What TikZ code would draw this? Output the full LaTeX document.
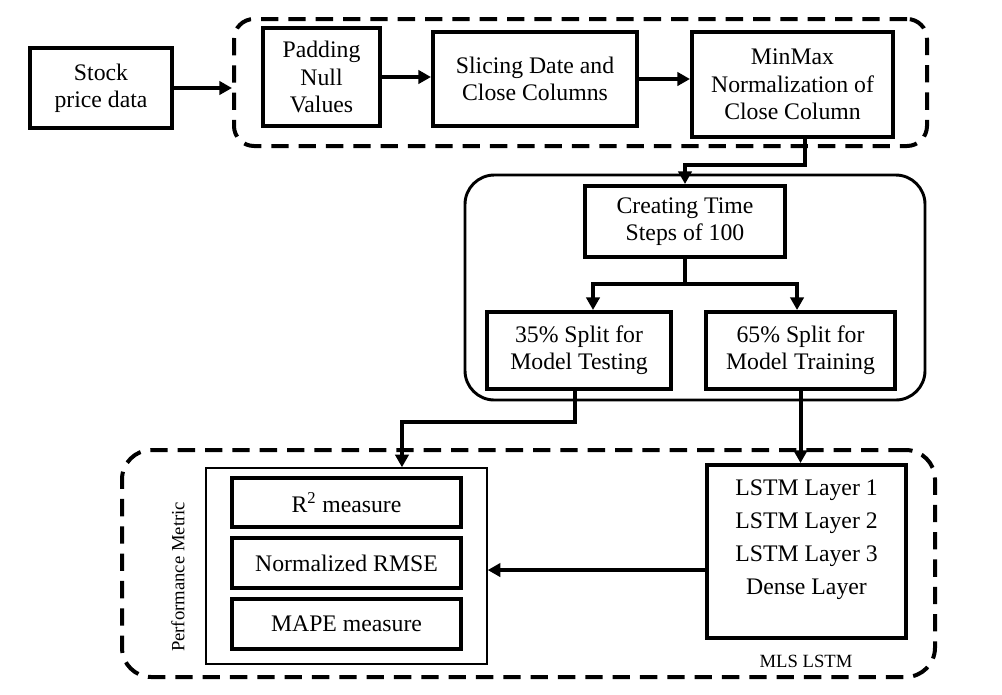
\documentclass[tikz,border=0pt]{standalone}
\usepackage{fontspec}
\setmainfont{Liberation Serif}
\usetikzlibrary{arrows.meta,calc}
\begin{document}
\begin{tikzpicture}[x=0.75pt,y=-0.75pt,
  box/.style={draw, line width=3pt, align=center, inner sep=0pt, font=\fontsize{17.8}{20.5}\selectfont},
  dashbox/.style={draw, line width=3pt, dash pattern=on 13pt off 7.5pt, rounded corners=#1, inner sep=0pt},
  roundbox/.style={draw, line width=2.2pt, rounded corners=22pt, inner sep=0pt},
  thinbox/.style={draw, line width=1.1pt, inner sep=0pt},
  arr/.style={line width=3pt, -{Triangle[length=9.5pt,width=10pt]}},
  smalltext/.style={font=\fontsize{14}{16}\selectfont},
  layertext/.style={align=center, font=\fontsize{17.8}{24.75}\selectfont}
]
\useasboundingbox (0,0) rectangle (1002,694);

% top group
\node[box, minimum width=106.5pt, minimum height=60pt] (stock) at (101,88) {Stock\\price data};
\node[dashbox=15pt, minimum width=519.75pt, minimum height=95.25pt] (pre) at (580.5,82.5) {};
\node[box, minimum width=87.75pt, minimum height=73.5pt] (pad) at (321.5,77) {Padding\\Null\\Values};
\node[box, minimum width=153pt, minimum height=70.5pt] (slice) at (535,79) {Slicing Date and\\Close Columns};
\node[box, minimum width=150.75pt, minimum height=78.75pt] (minmax) at (792.5,84.5) {MinMax\\Normalization of\\Close Column};

% middle group
\node[roundbox, minimum width=345pt, minimum height=168.75pt] (split) at (695,287.5) {};
\node[box, minimum width=150pt, minimum height=53.25pt] (create) at (685,221.5) {Creating Time\\Steps of 100};
\node[box, minimum width=138pt, minimum height=57.75pt] (test) at (579,350.5) {35\% Split for\\Model Testing};
\node[box, minimum width=141.75pt, minimum height=57.75pt] (train) at (800.5,350.5) {65\% Split for\\Model Training};

% bottom group
\node[dashbox=22pt, minimum width=609.75pt, minimum height=170.25pt] (model) at (528.5,563.5) {};
\node[thinbox, minimum width=210.75pt, minimum height=147pt] (perf) at (346.5,566) {};
\node[box, minimum width=171.75pt, minimum height=36.75pt] (r2) at (346.5,502.5) {R\textsuperscript{2} measure};
\node[box, minimum width=171.75pt, minimum height=37.5pt] (rmse) at (346.5,563) {Normalized RMSE};
\node[box, minimum width=171.75pt, minimum height=37.5pt] (mape) at (346.5,624) {MAPE measure};
\node[smalltext, rotate=90] (perflabel) at (178,577) {Performance Metric};
\node[box, minimum width=149.25pt, minimum height=129.75pt] (lstm) at (806.5,551.5) {};
\node[layertext] (layers) at (806.5,540) {LSTM Layer 1\\LSTM Layer 2\\LSTM Layer 3\\Dense Layer};
\node[smalltext] (mlslabel) at (806,661) {MLS LSTM};

% connectors
\draw[arr] (stock.east) -- (stock.east -| pre.west);
\draw[arr] (pad.east) -- (pad.east -| slice.west);
\draw[arr] (slice.east) -- (slice.east -| minmax.west);
\coordinate (mmout) at ([xshift=9pt]minmax.south);
\draw[arr] (mmout) -- ++(0,26) -| (create.north);
\coordinate (testin) at ([xshift=10.5pt]test.north);
\coordinate (trainin) at ([xshift=-2.6pt]train.north);
\draw[arr] (create.south) -- ++(0,25) -| (testin);
\draw[arr] (create.south) -- ++(0,25) -| (trainin);
\coordinate (testout) at ([xshift=-3pt]test.south);
\coordinate (perfin) at ([xshift=41.6pt]perf.north);
\draw[arr] (testout) -- ++(0,31) -| (perfin);
\draw[arr] (train.south) -- (train.south |- lstm.north);
\coordinate (lstmout) at ([yshift=-13.9pt]lstm.west);
\draw[arr] (lstmout) -- (lstmout -| perf.east);
\end{tikzpicture}
\end{document}
